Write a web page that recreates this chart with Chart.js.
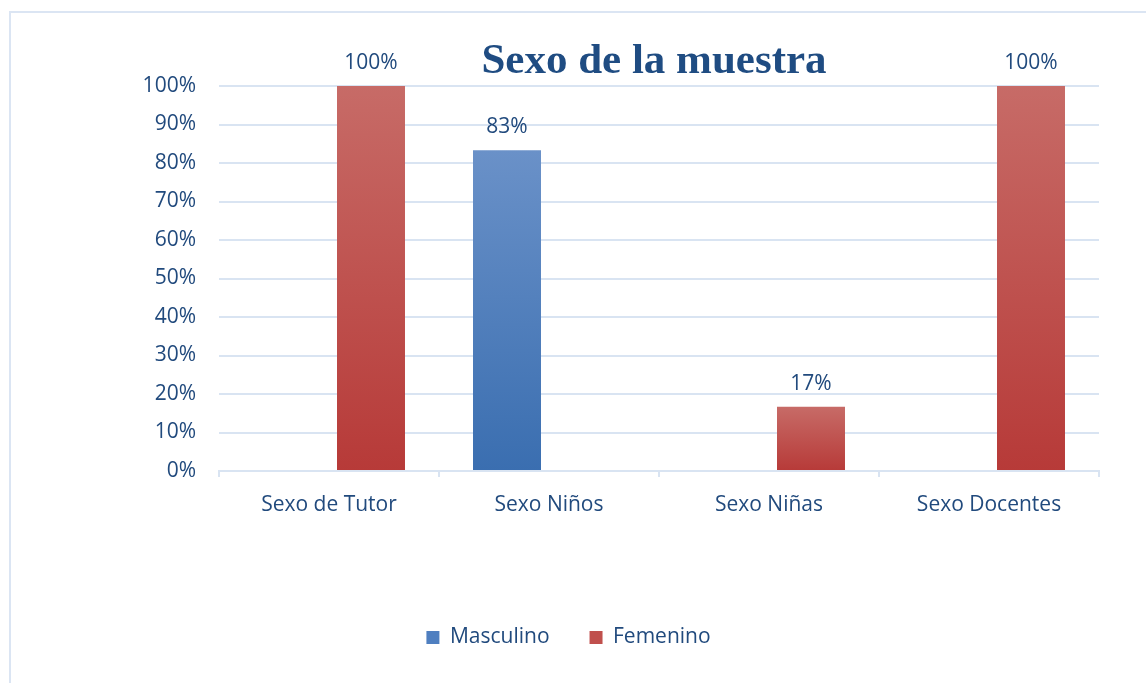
<!DOCTYPE html>
<html lang="es">
<head>
<meta charset="utf-8">
<title>Sexo de la muestra</title>
<script src="https://cdn.jsdelivr.net/npm/chart.js@4.4.1/dist/chart.umd.min.js"></script>
<style>
    html, body { margin: 0; padding: 0; background: #ffffff; }
    .chart-frame {
        position: absolute;
        left: 9px;
        top: 11px;
        width: 1200px;
        height: 700px;
        border: 2px solid #dbe5f3;
        box-sizing: border-box;
    }
    .chart-wrap {
        position: absolute;
        left: 0;
        top: 0;
        width: 1146px;
        height: 683px;
    }
</style>
</head>
<body>
<div class="chart-frame"></div>
<div class="chart-wrap">
    <canvas id="chart-sexo"></canvas>
</div>

<script>
// Data
const categories = ['Sexo de Tutor', 'Sexo Niños', 'Sexo Niñas', 'Sexo Docentes'];
const seriesNames = ['Masculino', 'Femenino'];
const masculino = [0, 83.3, 0, 0];
const femenino = [100, 0, 16.7, 100];
const yTickMax = 100;
const yTickStep = 10;

const TEXT_BLUE = '#214a7d';
const GRID_BLUE = '#d9e4f2';
const FONT = '"Open Sans", sans-serif';

// top / bottom colours of the bar gradients
const blueShades = ['#6a91c8', '#3a6eb0'];
const redShades = ['#c76b67', '#b73a38'];

/**
 * Vertical gradient per bar, from the bar top down to the zero line.
 */
function barGradient(shades) {
    return (context) => {
        const chart = context.chart;
        const yScale = chart.scales.y;
        if (!yScale || context.type !== 'data' || !context.raw) return shades[1];
        const top = yScale.getPixelForValue(context.raw);
        const base = yScale.getPixelForValue(0);
        if (!isFinite(top) || !isFinite(base) || top === base) return shades[1];
        const grad = chart.ctx.createLinearGradient(0, top, 0, base);
        grad.addColorStop(0, shades[0]);
        grad.addColorStop(1, shades[1]);
        return grad;
    };
}

// Percent labels over the non zero bars
const valueLabels = {
    id: 'valueLabels',
    afterDatasetsDraw(chart) {
        const ctx = chart.ctx;
        ctx.save();
        ctx.font = '21px ' + FONT;
        ctx.fillStyle = TEXT_BLUE;
        ctx.textAlign = 'center';
        ctx.textBaseline = 'alphabetic';
        chart.data.datasets.forEach((ds, i) => {
            chart.getDatasetMeta(i).data.forEach((bar, j) => {
                const v = ds.data[j];
                if (!v) return;
                ctx.fillText(Math.round(v) + '%', bar.x, bar.y - 17);
            });
        });
        ctx.restore();
    }
};

// Title sits over the top of the plot area, like the original
const overlayTitle = {
    id: 'overlayTitle',
    afterDraw(chart) {
        const { ctx, chartArea } = chart;
        ctx.save();
        ctx.font = 'bold 43px "Liberation Serif", "Times New Roman", serif';
        ctx.fillStyle = '#1f4c82';
        ctx.textAlign = 'center';
        ctx.textBaseline = 'alphabetic';
        ctx.fillText('Sexo de la muestra', (chartArea.left + chartArea.right) / 2 - 5, chartArea.top - 13);
        ctx.restore();
    }
};

const canvas = document.getElementById('chart-sexo');
new Chart(canvas.getContext('2d'), {
    type: 'bar',
    data: {
        labels: categories,
        datasets: [{
            label: seriesNames[0],
            data: masculino,
            backgroundColor: barGradient(blueShades),
            borderWidth: 0
        }, {
            label: seriesNames[1],
            data: femenino,
            backgroundColor: barGradient(redShades),
            borderWidth: 0
        }]
    },
    options: {
        responsive: true,
        maintainAspectRatio: false,
        animation: false,
        layout: {
            padding: { top: 86, right: 47, bottom: 25, left: 38 }
        },
        datasets: {
            bar: {
                categoryPercentage: 0.7636,
                barPercentage: 0.8095
            }
        },
        plugins: {
            title: { display: false },
            tooltip: { enabled: false },
            legend: {
                position: 'bottom',
                labels: {
                    color: TEXT_BLUE,
                    font: { family: FONT, size: 21 },
                    boxWidth: 13,
                    boxHeight: 13,
                    padding: 40,
                    generateLabels(chart) {
                        const items = Chart.defaults.plugins.legend.labels.generateLabels(chart);
                        const solid = ['#4f7fc0', '#c0504d'];
                        items.forEach((it, i) => {
                            it.fillStyle = solid[i];
                            it.strokeStyle = solid[i];
                            it.lineWidth = 0;
                        });
                        return items;
                    }
                }
            }
        },
        scales: {
            x: {
                afterFit(scale) { scale.height = 116; },
                grid: {
                    offset: true,
                    drawOnChartArea: false,
                    color: GRID_BLUE,
                    lineWidth: 2,
                    tickLength: 6
                },
                border: { color: GRID_BLUE, width: 2 },
                ticks: {
                    color: TEXT_BLUE,
                    padding: 15,
                    font: { family: FONT, size: 21 }
                }
            },
            y: {
                min: 0,
                max: yTickMax,
                afterFit(scale) { scale.width = 181; },
                grid: {
                    color: GRID_BLUE,
                    lineWidth: 2,
                    drawTicks: false
                },
                border: { display: false },
                ticks: {
                    stepSize: yTickStep,
                    color: TEXT_BLUE,
                    padding: 23,
                    font: { family: FONT, size: 21 },
                    callback: (v) => v + '%'
                }
            }
        }
    },
    plugins: [valueLabels, overlayTitle]
});
</script>
</body>
</html>
